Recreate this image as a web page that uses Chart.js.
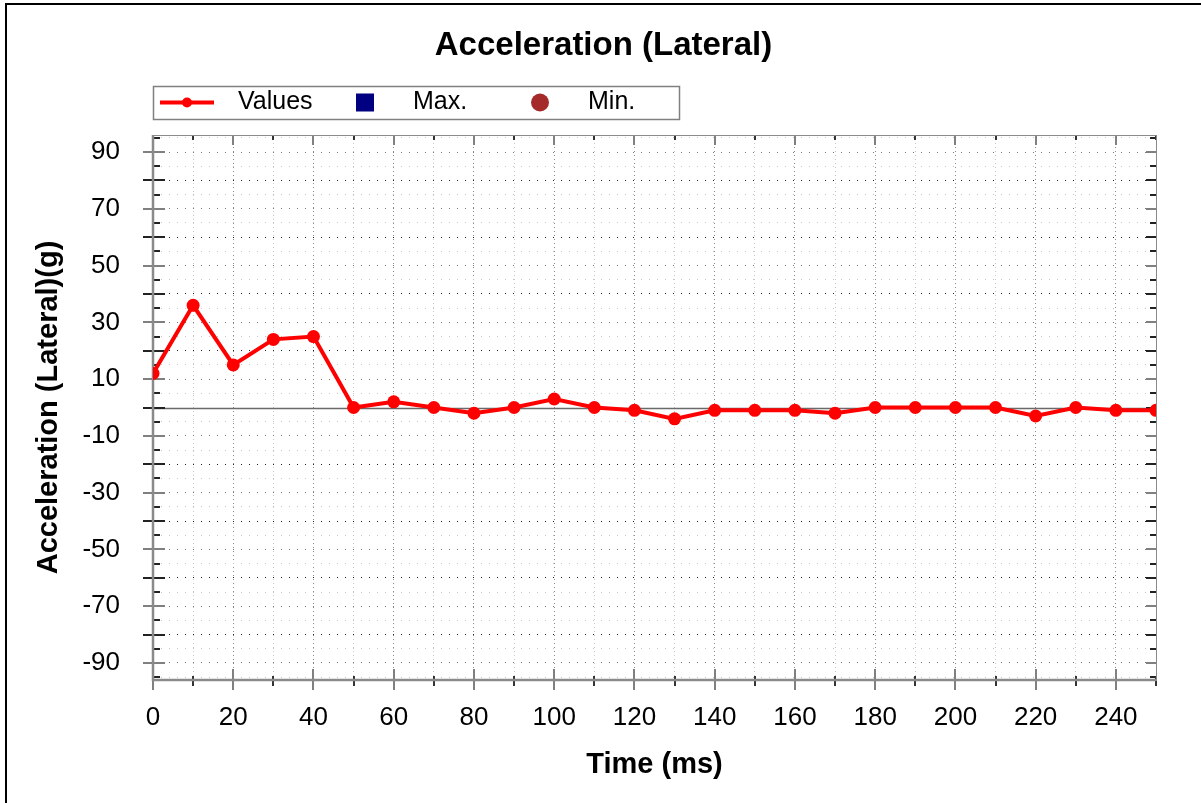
<!DOCTYPE html>
<html>
<head>
<meta charset="utf-8">
<title>Acceleration (Lateral)</title>
<script src="https://cdn.jsdelivr.net/npm/chart.js@4.4.1/dist/chart.umd.min.js"></script>
<style>
  html, body { margin: 0; padding: 0; background: #fff; }
  #wrap { position: relative; width: 1201px; height: 803px; }
  #edge { position: absolute; left: 5px; top: 3px; right: 0; bottom: 0; border-left: 2px solid #000; border-top: 2px solid #000; pointer-events: none; }
</style>
</head>
<body>
<div id="wrap">
  <canvas id="chart" width="1201" height="803"></canvas>
  <div id="edge"></div>
</div>
<script>
// time (ms) and lateral acceleration (g)
const timeMs = [0, 10, 20, 30, 40, 50, 60, 70, 80, 90, 100, 110, 120, 130, 140, 150, 160, 170, 180, 190, 200, 210, 220, 230, 240, 250];
const accelValues = [12, 36, 15, 24, 25, 0, 2, 0, -2, 0, 3, 0, -1, -4, -1, -1, -1, -2, 0, 0, 0, 0, -3, 0, -1, -1];
const maxValues = [];
const minValues = [];

const xRange = [0, 250];
const yRange = [-96, 96];
const legendNames = ['Values', 'Max.', 'Min.'];
const chartTitle = 'Acceleration (Lateral)';

Chart.defaults.font.family = '"Liberation Sans", Arial, sans-serif';
Chart.defaults.color = '#000';

// frame, zero line and the tick marks that cross the axes
const frameTicks = {
    id: 'frameTicks',
    beforeDatasetsDraw(chart) {
        const { ctx, chartArea: a, scales: { x, y } } = chart;
        ctx.save();

        // zero line
        const y0 = Math.round(y.getPixelForValue(0)) + 0.5;
        ctx.strokeStyle = '#6a6a6a';
        ctx.lineWidth = 1.5;
        ctx.beginPath();
        ctx.moveTo(a.left, y0);
        ctx.lineTo(a.right, y0);
        ctx.stroke();

        ctx.lineWidth = 2;
        y.ticks.forEach(t => {
            const py = Math.round(y.getPixelForValue(t.value));
            const major = t.value % 10 === 0;
            const labelled = Math.abs(t.value) % 20 === 10;
            ctx.strokeStyle = labelled ? '#808080' : '#222';
            ctx.beginPath();
            if (major) {
                ctx.moveTo(a.left - 10, py); ctx.lineTo(a.left + 12, py);
                ctx.moveTo(a.right - 10, py); ctx.lineTo(a.right, py);
            } else {
                ctx.moveTo(a.left, py); ctx.lineTo(a.left + 7, py);
                ctx.moveTo(a.right - 6, py); ctx.lineTo(a.right, py);
            }
            ctx.stroke();
        });
        x.ticks.forEach(t => {
            const px = Math.round(x.getPixelForValue(t.value));
            const major = t.value % 20 === 0;
            ctx.strokeStyle = major ? '#808080' : '#333';
            ctx.beginPath();
            if (major) {
                ctx.moveTo(px, a.bottom - 11); ctx.lineTo(px, a.bottom + 10);
                ctx.moveTo(px, a.top); ctx.lineTo(px, a.top + 10);
            } else {
                ctx.moveTo(px, a.bottom - 4); ctx.lineTo(px, a.bottom + 6);
                ctx.moveTo(px, a.top); ctx.lineTo(px, a.top + 5);
            }
            ctx.stroke();
        });

        // plot frame
        ctx.strokeStyle = '#8a8a8a';
        ctx.lineWidth = 1;
        ctx.strokeRect(a.left + 0.5, a.top + 0.5, a.right - a.left, a.bottom - a.top);
        ctx.lineWidth = 2.5;
        ctx.beginPath();
        ctx.moveTo(a.left, a.top);
        ctx.lineTo(a.left, a.bottom);
        ctx.lineTo(a.right, a.bottom);
        ctx.stroke();
        ctx.restore();
    }
};

// title centred on the whole picture, plus a boxed legend with wide slots
const headerLegend = {
    id: 'headerLegend',
    afterDraw(chart) {
        const { ctx, chartArea: a } = chart;
        const sets = chart.data.datasets;
        ctx.save();
        ctx.fillStyle = '#000';
        ctx.font = 'bold 33px "Liberation Sans", Arial, sans-serif';
        ctx.textAlign = 'center';
        ctx.textBaseline = 'middle';
        ctx.fillText(chartTitle, chart.width / 2 + 3, 46);

        const top = 86, h = 33, w = 526;
        const cy = top + h / 2;
        ctx.fillStyle = '#fff';
        ctx.fillRect(a.left, top, w, h);
        ctx.strokeStyle = '#808080';
        ctx.lineWidth = 1.5;
        ctx.strokeRect(a.left + 0.5, top + 0.5, w, h);

        // Values: line with a dot
        ctx.strokeStyle = sets[0].borderColor;
        ctx.lineWidth = 4;
        ctx.beginPath();
        ctx.moveTo(a.left + 7, cy);
        ctx.lineTo(a.left + 61, cy);
        ctx.stroke();
        ctx.fillStyle = sets[0].backgroundColor;
        ctx.beginPath();
        ctx.arc(a.left + 34, cy, 5, 0, Math.PI * 2);
        ctx.fill();

        // Max: square
        ctx.fillStyle = sets[1].backgroundColor;
        ctx.fillRect(a.left + 203, cy - 9, 18, 18);

        // Min: circle
        ctx.fillStyle = sets[2].backgroundColor;
        ctx.beginPath();
        ctx.arc(a.left + 387, cy, 9, 0, Math.PI * 2);
        ctx.fill();

        ctx.fillStyle = '#000';
        ctx.font = '25px "Liberation Sans", Arial, sans-serif';
        ctx.textAlign = 'left';
        const textX = [85, 260, 435];
        sets.forEach((s, i) => ctx.fillText(s.label, a.left + textX[i], cy));
        ctx.restore();
    }
};

new Chart(document.getElementById('chart'), {
    type: 'line',
    data: {
        datasets: [
            {
                label: legendNames[0],
                data: timeMs.map((t, i) => ({ x: t, y: accelValues[i] })),
                borderColor: '#ff0000',
                backgroundColor: '#ff0000',
                borderWidth: 4,
                pointRadius: 6.5,
                pointHoverRadius: 6.5,
                pointBorderWidth: 0,
                tension: 0,
                clip: 0
            },
            {
                label: legendNames[1],
                data: maxValues,
                backgroundColor: '#000080',
                borderColor: '#000080',
                pointStyle: 'rect',
                showLine: false
            },
            {
                label: legendNames[2],
                data: minValues,
                backgroundColor: '#a52a2a',
                borderColor: '#a52a2a',
                pointStyle: 'circle',
                showLine: false
            }
        ]
    },
    options: {
        responsive: false,
        animation: false,
        devicePixelRatio: 1,
        layout: { padding: { left: 0, right: 45, top: 135, bottom: 0 } },
        plugins: {
            legend: { display: false },
            tooltip: { enabled: false },
            title: { display: false }
        },
        scales: {
            x: {
                type: 'linear',
                min: xRange[0],
                max: xRange[1],
                afterFit(scale) { scale.height = 123; },
                ticks: {
                    stepSize: 10,
                    autoSkip: false,
                    maxRotation: 0,
                    padding: 22,
                    font: { size: 26 },
                    callback: v => (v % 20 === 0 && v < xRange[1] ? v : '')
                },
                grid: {
                    drawTicks: false,
                    color: c => (c.tick && c.tick.value % 20 === 0 ? '#8a8a8a' : '#c8c8c8'),
                    lineWidth: 1
                },
                border: { display: false, dash: [1, 3] },
                title: {
                    display: true,
                    text: 'Time (ms)',
                    color: '#000',
                    font: { size: 29, weight: 'bold' },
                    padding: { top: 21, bottom: 21 }
                }
            },
            y: {
                min: yRange[0],
                max: yRange[1],
                afterFit(scale) { scale.width = 153; },
                ticks: {
                    stepSize: 5,
                    includeBounds: false,
                    autoSkip: false,
                    padding: 33,
                    font: { size: 26 },
                    callback: v => (Math.abs(v) % 20 === 10 ? v : '')
                },
                grid: {
                    drawTicks: false,
                    color: c => {
                        const v = c.tick ? c.tick.value : 1;
                        if (v === 0) return 'rgba(0,0,0,0)';
                        if (v % 10 !== 0) return '#c4c4c4';
                        return Math.abs(v) % 20 === 10 ? '#7a7a7a' : '#222';
                    },
                    lineWidth: 1
                },
                border: { display: false, dash: [1, 7] },
                title: {
                    display: true,
                    text: 'Acceleration (Lateral)(g)',
                    color: '#000',
                    font: { size: 29, weight: 'bold' },
                    padding: { top: 32, bottom: 0 }
                }
            }
        }
    },
    plugins: [frameTicks, headerLegend]
});
</script>
</body>
</html>
